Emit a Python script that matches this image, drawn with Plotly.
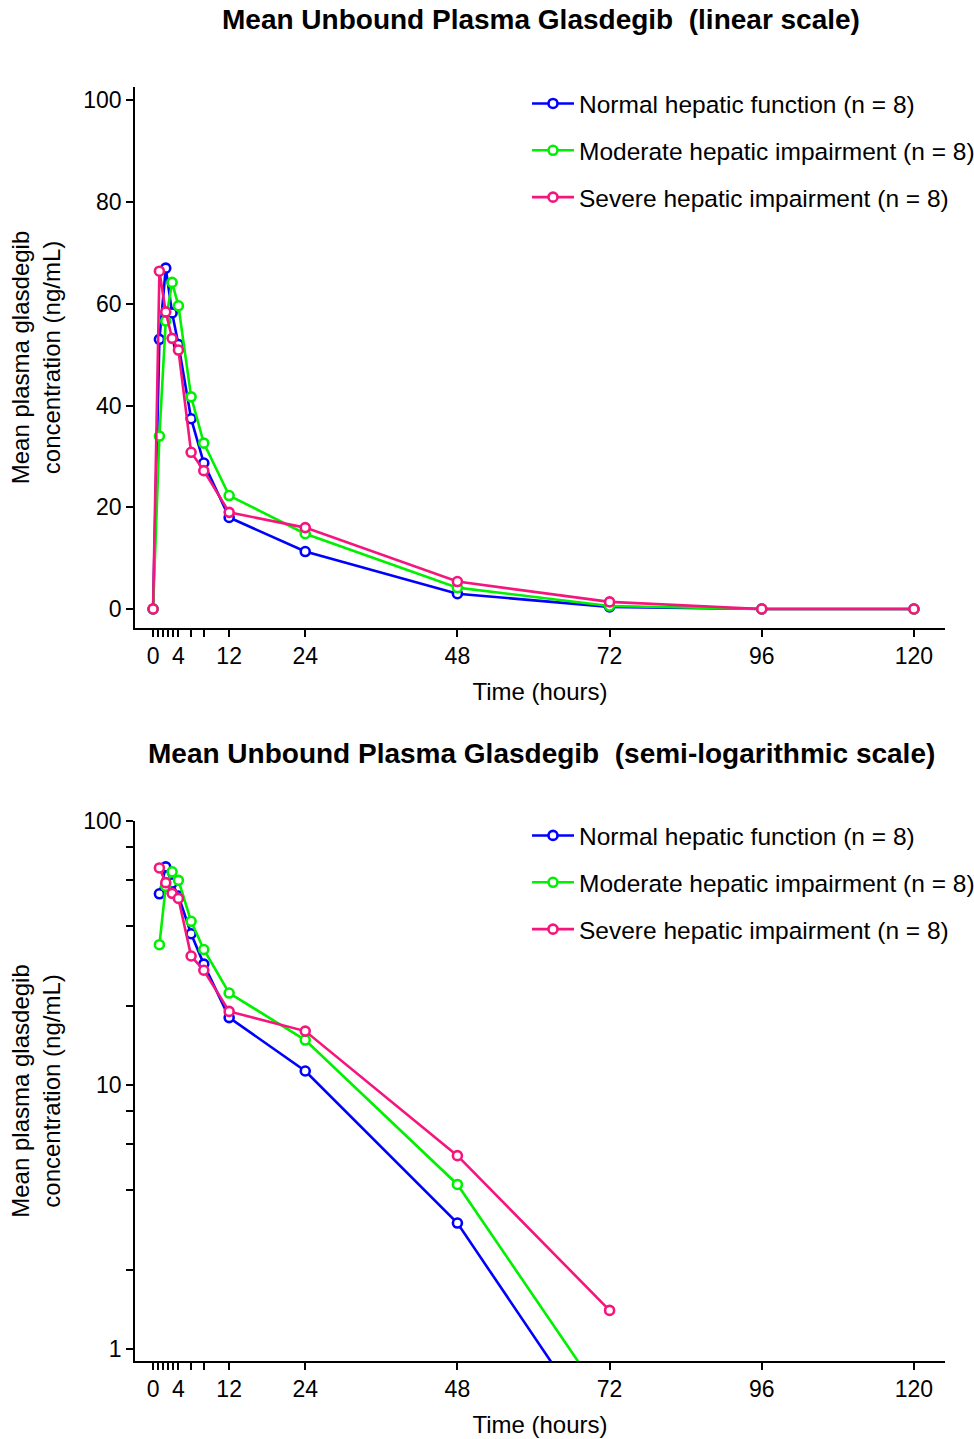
import plotly.graph_objects as go

# ---- data ----
time_h = [0, 1, 2, 3, 4, 6, 8, 12, 24, 48, 72, 96, 120]
normal = [0, 53.0, 67.0, 58.2, 52.0, 37.4, 28.7, 18.0, 11.3, 3.0, 0.42, 0, 0]
moderate = [0, 34.0, 56.6, 64.2, 59.6, 41.7, 32.6, 22.3, 14.8, 4.2, 0.6, 0, 0]
severe = [0, 66.4, 58.4, 53.2, 50.9, 30.8, 27.2, 19.0, 16.0, 5.4, 1.4, 0, 0]

series_names = ["Normal hepatic function (n = 8)",
                "Moderate hepatic impairment (n = 8)",
                "Severe hepatic impairment (n = 8)"]
series_values = [normal, moderate, severe]
series_colors = ["#0000FF", "#00F000", "#F5157D"]

x_tickvals = [0, 0.8, 1.6, 2.4, 3.2, 4, 6, 8, 12, 24, 48, 72, 96, 120]
x_ticktext = ["0", "", "", "", "", "4", "", "", "12", "24", "48", "72", "96", "120"]
lin_tickvals = [0, 20, 40, 60, 80, 100]
log_tickvals = [1, 2, 4, 6, 8, 10, 20, 40, 60, 80, 100]
log_ticktext = ["1", "", "", "", "", "10", "", "", "", "", "100"]

titles = ["<b>Mean Unbound Plasma Glasdegib  (linear scale)</b>",
          "<b>Mean Unbound Plasma Glasdegib  (semi-logarithmic scale)</b>"]
y_title = "Mean plasma glasdegib<br>concentration (ng/mL)"
x_title = "Time (hours)"

W, H = 974, 1439
ML, MR, MT, MB = 135, 0, 80, 78
PW, PH = W - ML - MR, H - MT - MB
FONT = "Arial, Liberation Sans, sans-serif"


def fy(p):  # pixel row -> paper y (plot-area based)
    return (H - MB - p) / PH


def fx(p):  # pixel column -> paper x
    return (p - ML) / PW


fig = go.Figure()

for row, (lg, xa, ya) in enumerate([("legend", "x", "y"), ("legend2", "x2", "y2")]):
    for i, (name, vals, col) in enumerate(zip(series_names, series_values, series_colors)):
        yv = vals if row == 0 else [v if v > 0 else None for v in vals]
        fig.add_trace(go.Scatter(
            x=time_h, y=yv, name=name, mode="lines+markers",
            line=dict(color=col, width=2.6),
            marker=dict(symbol="circle", size=9, color="white",
                        line=dict(color=col, width=2.6)),
            connectgaps=False,
            legend=lg, legendgroup=f"{lg}{i}", xaxis=xa, yaxis=ya,
        ))

axis_common = dict(showline=True, linecolor="black", linewidth=1.5,
                   ticks="outside", ticklen=7, tickwidth=1.5, tickcolor="black",
                   showgrid=False, zeroline=False, automargin=False,
                   tickfont=dict(family=FONT, size=23, color="black"))

x_dom = [0, fx(945)]
xa_common = dict(domain=x_dom, range=[-2.85, 124.9], tickmode="array",
                 tickvals=x_tickvals, ticktext=x_ticktext,
                 title=dict(text=x_title, font=dict(size=24), standoff=15),
                 **axis_common)
ya_title = dict(text=y_title, font=dict(size=24), standoff=16)

legend_common = dict(xanchor="left", yanchor="top", bgcolor="rgba(0,0,0,0)",
                     tracegroupgap=12, traceorder="grouped", itemwidth=42,
                     font=dict(family=FONT, size=24.5))

fig.update_layout(
    width=W, height=H,
    margin=dict(l=ML, r=MR, t=MT, b=MB, autoexpand=False),
    plot_bgcolor="white", paper_bgcolor="white",
    font=dict(family=FONT, size=21, color="black"),
    xaxis=dict(anchor="y", **xa_common),
    yaxis=dict(domain=[fy(628), fy(87)], anchor="x", range=[-3.73, 102.6],
               tickmode="array", tickvals=lin_tickvals, title=ya_title,
               **axis_common),
    xaxis2=dict(anchor="y2", **xa_common),
    yaxis2=dict(domain=[0, fy(821)], anchor="x2", type="log",
                range=[-0.0455, 2.0],
                tickmode="array", tickvals=log_tickvals, ticktext=log_ticktext,
                title=ya_title, **axis_common),
    legend=dict(x=fx(527), y=fy(81), **legend_common),
    legend2=dict(x=fx(527), y=fy(813), **legend_common),
    annotations=[
        dict(text=titles[0], xref="paper", yref="paper", x=fx(541), y=fy(20),
             xanchor="center", yanchor="middle", showarrow=False,
             font=dict(family=FONT, size=28)),
        dict(text=titles[1], xref="paper", yref="paper", x=fx(541), y=fy(754),
             xanchor="center", yanchor="middle", showarrow=False,
             font=dict(family=FONT, size=28)),
    ],
)

fig.write_html("out.html", config={"displayModeBar": False},
               post_script="document.body.style.margin='0';")
